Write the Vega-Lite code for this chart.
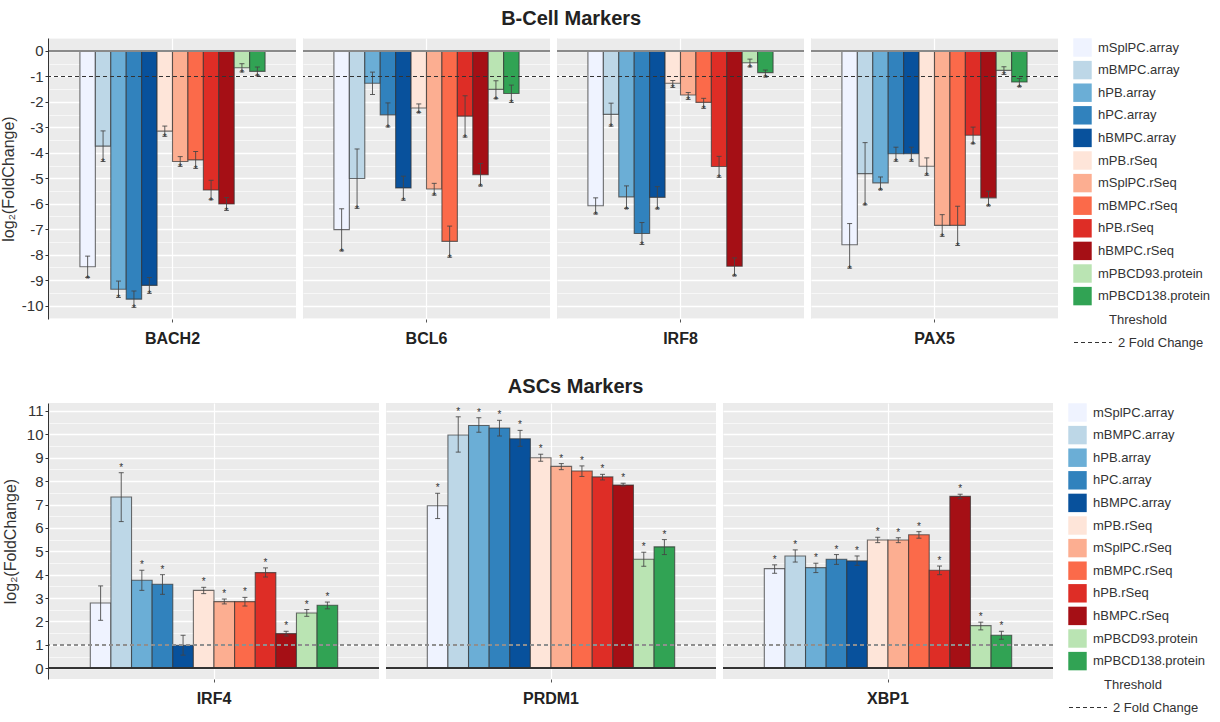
{
  "$schema": "https://vega.github.io/schema/vega-lite/v6.json",
  "background": "white",
  "padding": {"left": 0, "top": 9, "right": 5, "bottom": 2},
  "config": {
    "view": {"fill": "#EBEBEB", "stroke": null},
    "font": "Liberation Sans",
    "concat": {"spacing": 27},
    "legend": {"labelFont": "Liberation Sans", "titleFont": "Liberation Sans"},
    "axis": {"labelFont": "Liberation Sans", "titleFont": "Liberation Sans"},
    "axisY": {"labelOverlap": false}
  },
  "datasets": {
    "bcell": [
      {"gene": "BACH2", "sample": "mSplPC.array", "fc": -8.48, "lo": -8.9, "hi": -8.06, "star": "*"},
      {"gene": "BACH2", "sample": "mBMPC.array", "fc": -3.74, "lo": -4.34, "hi": -3.14, "star": "*"},
      {"gene": "BACH2", "sample": "hPB.array", "fc": -9.36, "lo": -9.68, "hi": -9.04, "star": "*"},
      {"gene": "BACH2", "sample": "hPC.array", "fc": -9.75, "lo": -10.07, "hi": -9.43, "star": "*"},
      {"gene": "BACH2", "sample": "hBMPC.array", "fc": -9.21, "lo": -9.52, "hi": -8.9, "star": "*"},
      {"gene": "BACH2", "sample": "mPB.rSeq", "fc": -3.15, "lo": -3.35, "hi": -2.95, "star": "*"},
      {"gene": "BACH2", "sample": "mSplPC.rSeq", "fc": -4.34, "lo": -4.53, "hi": -4.15, "star": "*"},
      {"gene": "BACH2", "sample": "mBMPC.rSeq", "fc": -4.28, "lo": -4.61, "hi": -3.95, "star": "*"},
      {"gene": "BACH2", "sample": "hPB.rSeq", "fc": -5.46, "lo": -5.84, "hi": -5.08, "star": "*"},
      {"gene": "BACH2", "sample": "hBMPC.rSeq", "fc": -6.01, "lo": -6.26, "hi": -5.76, "star": "*"},
      {"gene": "BACH2", "sample": "mPBCD93.protein", "fc": -0.66, "lo": -0.82, "hi": -0.5, "star": "*"},
      {"gene": "BACH2", "sample": "mPBCD138.protein", "fc": -0.8, "lo": -0.97, "hi": -0.63, "star": "*"},
      {"gene": "BCL6", "sample": "mSplPC.array", "fc": -7.02, "lo": -7.85, "hi": -6.2, "star": "*"},
      {"gene": "BCL6", "sample": "mBMPC.array", "fc": -5.01, "lo": -6.18, "hi": -3.85, "star": "*"},
      {"gene": "BCL6", "sample": "hPB.array", "fc": -1.27, "lo": -1.71, "hi": -0.83, "star": ""},
      {"gene": "BCL6", "sample": "hPC.array", "fc": -2.51, "lo": -2.98, "hi": -2.04, "star": "*"},
      {"gene": "BCL6", "sample": "hBMPC.array", "fc": -5.38, "lo": -5.86, "hi": -4.92, "star": "*"},
      {"gene": "BCL6", "sample": "mPB.rSeq", "fc": -2.24, "lo": -2.42, "hi": -2.08, "star": "*"},
      {"gene": "BCL6", "sample": "mSplPC.rSeq", "fc": -5.42, "lo": -5.66, "hi": -5.2, "star": "*"},
      {"gene": "BCL6", "sample": "mBMPC.rSeq", "fc": -7.48, "lo": -8.1, "hi": -6.88, "star": "*"},
      {"gene": "BCL6", "sample": "hPB.rSeq", "fc": -2.56, "lo": -3.38, "hi": -1.76, "star": "*"},
      {"gene": "BCL6", "sample": "hBMPC.rSeq", "fc": -4.86, "lo": -5.3, "hi": -4.42, "star": "*"},
      {"gene": "BCL6", "sample": "mPBCD93.protein", "fc": -1.51, "lo": -1.87, "hi": -1.17, "star": "*"},
      {"gene": "BCL6", "sample": "mPBCD138.protein", "fc": -1.67, "lo": -2.02, "hi": -1.34, "star": "*"},
      {"gene": "IRF8", "sample": "mSplPC.array", "fc": -6.08, "lo": -6.4, "hi": -5.77, "star": "*"},
      {"gene": "IRF8", "sample": "mBMPC.array", "fc": -2.49, "lo": -2.95, "hi": -2.05, "star": "*"},
      {"gene": "IRF8", "sample": "hPB.array", "fc": -5.73, "lo": -6.19, "hi": -5.3, "star": "*"},
      {"gene": "IRF8", "sample": "hPC.array", "fc": -7.17, "lo": -7.6, "hi": -6.74, "star": "*"},
      {"gene": "IRF8", "sample": "hBMPC.array", "fc": -5.75, "lo": -6.2, "hi": -5.33, "star": "*"},
      {"gene": "IRF8", "sample": "mPB.rSeq", "fc": -1.27, "lo": -1.43, "hi": -1.16, "star": "*"},
      {"gene": "IRF8", "sample": "mSplPC.rSeq", "fc": -1.73, "lo": -1.9, "hi": -1.63, "star": "*"},
      {"gene": "IRF8", "sample": "mBMPC.rSeq", "fc": -2.02, "lo": -2.25, "hi": -1.86, "star": "*"},
      {"gene": "IRF8", "sample": "hPB.rSeq", "fc": -4.54, "lo": -4.96, "hi": -4.14, "star": "*"},
      {"gene": "IRF8", "sample": "hBMPC.rSeq", "fc": -8.46, "lo": -8.83, "hi": -8.13, "star": "*"},
      {"gene": "IRF8", "sample": "mPBCD93.protein", "fc": -0.46, "lo": -0.62, "hi": -0.32, "star": "*"},
      {"gene": "IRF8", "sample": "mPBCD138.protein", "fc": -0.85, "lo": -1.02, "hi": -0.75, "star": "*"},
      {"gene": "PAX5", "sample": "mSplPC.array", "fc": -7.61, "lo": -8.53, "hi": -6.78, "star": "*"},
      {"gene": "PAX5", "sample": "mBMPC.array", "fc": -4.82, "lo": -6.04, "hi": -3.6, "star": "*"},
      {"gene": "PAX5", "sample": "hPB.array", "fc": -5.18, "lo": -5.45, "hi": -4.95, "star": "*"},
      {"gene": "PAX5", "sample": "hPC.array", "fc": -4.04, "lo": -4.33, "hi": -3.78, "star": "*"},
      {"gene": "PAX5", "sample": "hBMPC.array", "fc": -4.04, "lo": -4.33, "hi": -3.78, "star": "*"},
      {"gene": "PAX5", "sample": "mPB.rSeq", "fc": -4.53, "lo": -4.88, "hi": -4.2, "star": "*"},
      {"gene": "PAX5", "sample": "mSplPC.rSeq", "fc": -6.85, "lo": -7.28, "hi": -6.43, "star": "*"},
      {"gene": "PAX5", "sample": "mBMPC.rSeq", "fc": -6.85, "lo": -7.64, "hi": -6.1, "star": "*"},
      {"gene": "PAX5", "sample": "hPB.rSeq", "fc": -3.31, "lo": -3.64, "hi": -2.99, "star": "*"},
      {"gene": "PAX5", "sample": "hBMPC.rSeq", "fc": -5.77, "lo": -6.08, "hi": -5.51, "star": "*"},
      {"gene": "PAX5", "sample": "mPBCD93.protein", "fc": -0.76, "lo": -0.92, "hi": -0.62, "star": "*"},
      {"gene": "PAX5", "sample": "mPBCD138.protein", "fc": -1.22, "lo": -1.4, "hi": -1.08, "star": "*"}
    ],
    "asc": [
      {"gene": "IRF4", "sample": "mSplPC.array", "fc": 2.79, "lo": 2.05, "hi": 3.52, "star": ""},
      {"gene": "IRF4", "sample": "mBMPC.array", "fc": 7.32, "lo": 6.27, "hi": 8.36, "star": "*"},
      {"gene": "IRF4", "sample": "hPB.array", "fc": 3.76, "lo": 3.33, "hi": 4.19, "star": "*"},
      {"gene": "IRF4", "sample": "hPC.array", "fc": 3.59, "lo": 3.16, "hi": 4.0, "star": "*"},
      {"gene": "IRF4", "sample": "hBMPC.array", "fc": 0.98, "lo": 0.56, "hi": 1.41, "star": ""},
      {"gene": "IRF4", "sample": "mPB.rSeq", "fc": 3.33, "lo": 3.19, "hi": 3.46, "star": "*"},
      {"gene": "IRF4", "sample": "mSplPC.rSeq", "fc": 2.85, "lo": 2.75, "hi": 2.96, "star": "*"},
      {"gene": "IRF4", "sample": "mBMPC.rSeq", "fc": 2.85, "lo": 2.66, "hi": 3.03, "star": "*"},
      {"gene": "IRF4", "sample": "hPB.rSeq", "fc": 4.09, "lo": 3.9, "hi": 4.29, "star": "*"},
      {"gene": "IRF4", "sample": "hBMPC.rSeq", "fc": 1.48, "lo": 1.38, "hi": 1.58, "star": "*"},
      {"gene": "IRF4", "sample": "mPBCD93.protein", "fc": 2.36, "lo": 2.22, "hi": 2.51, "star": "*"},
      {"gene": "IRF4", "sample": "mPBCD138.protein", "fc": 2.69, "lo": 2.54, "hi": 2.83, "star": "*"},
      {"gene": "PRDM1", "sample": "mSplPC.array", "fc": 6.95, "lo": 6.4, "hi": 7.48, "star": "*"},
      {"gene": "PRDM1", "sample": "mBMPC.array", "fc": 9.97, "lo": 9.24, "hi": 10.75, "star": "*"},
      {"gene": "PRDM1", "sample": "hPB.array", "fc": 10.38, "lo": 10.09, "hi": 10.71, "star": "*"},
      {"gene": "PRDM1", "sample": "hPC.array", "fc": 10.27, "lo": 9.93, "hi": 10.6, "star": "*"},
      {"gene": "PRDM1", "sample": "hBMPC.array", "fc": 9.81, "lo": 9.49, "hi": 10.17, "star": "*"},
      {"gene": "PRDM1", "sample": "mPB.rSeq", "fc": 9.0, "lo": 8.85, "hi": 9.15, "star": "*"},
      {"gene": "PRDM1", "sample": "mSplPC.rSeq", "fc": 8.63, "lo": 8.49, "hi": 8.75, "star": "*"},
      {"gene": "PRDM1", "sample": "mBMPC.rSeq", "fc": 8.43, "lo": 8.2, "hi": 8.65, "star": "*"},
      {"gene": "PRDM1", "sample": "hPB.rSeq", "fc": 8.18, "lo": 8.05, "hi": 8.29, "star": "*"},
      {"gene": "PRDM1", "sample": "hBMPC.rSeq", "fc": 7.83, "lo": 7.79, "hi": 7.91, "star": "*"},
      {"gene": "PRDM1", "sample": "mPBCD93.protein", "fc": 4.66, "lo": 4.36, "hi": 4.96, "star": "*"},
      {"gene": "PRDM1", "sample": "mPBCD138.protein", "fc": 5.19, "lo": 4.86, "hi": 5.5, "star": "*"},
      {"gene": "XBP1", "sample": "mSplPC.array", "fc": 4.26, "lo": 4.06, "hi": 4.42, "star": "*"},
      {"gene": "XBP1", "sample": "mBMPC.array", "fc": 4.8, "lo": 4.54, "hi": 5.06, "star": "*"},
      {"gene": "XBP1", "sample": "hPB.array", "fc": 4.3, "lo": 4.09, "hi": 4.49, "star": "*"},
      {"gene": "XBP1", "sample": "hPC.array", "fc": 4.66, "lo": 4.44, "hi": 4.86, "star": "*"},
      {"gene": "XBP1", "sample": "hBMPC.array", "fc": 4.59, "lo": 4.4, "hi": 4.8, "star": "*"},
      {"gene": "XBP1", "sample": "mPB.rSeq", "fc": 5.48, "lo": 5.37, "hi": 5.6, "star": "*"},
      {"gene": "XBP1", "sample": "mSplPC.rSeq", "fc": 5.48, "lo": 5.37, "hi": 5.58, "star": "*"},
      {"gene": "XBP1", "sample": "mBMPC.rSeq", "fc": 5.71, "lo": 5.56, "hi": 5.84, "star": "*"},
      {"gene": "XBP1", "sample": "hPB.rSeq", "fc": 4.19, "lo": 4.0, "hi": 4.37, "star": "*"},
      {"gene": "XBP1", "sample": "hBMPC.rSeq", "fc": 7.35, "lo": 7.25, "hi": 7.44, "star": "*"},
      {"gene": "XBP1", "sample": "mPBCD93.protein", "fc": 1.82, "lo": 1.64, "hi": 1.97, "star": "*"},
      {"gene": "XBP1", "sample": "mPBCD138.protein", "fc": 1.41, "lo": 1.24, "hi": 1.58, "star": "*"}
    ]
  },
  "vconcat": [
    {
      "data": {"name": "bcell"},
      "title": {"text": "B-Cell Markers", "fontSize": 20, "fontWeight": "bold", "color": "#222", "anchor": "middle", "offset": 2, "dx": -34},
      "facet": {"column": {"field": "gene", "type": "nominal", "header": {"title": null, "labels": false}}},
      "spacing": 5,
      "resolve": {"scale": {"x": "independent", "xOffset": "independent"}},
      "spec": {
        "width": 247,
        "height": 281,
        "layer": [
          {
            "mark": {"type": "bar", "stroke": "#333", "strokeOpacity": 0.7, "strokeWidth": 1.1},
            "encoding": {
              "x": {"field": "gene", "type": "nominal", "scale": {"type": "band", "paddingInner": 0, "paddingOuter": 0.167},
                "axis": {"title": null, "labelFontSize": 16, "labelFontWeight": "bold", "labelColor": "#222", "labelAngle": 0, "domain": false, "ticks": true, "tickSize": 3, "tickColor": "#555", "grid": true, "gridColor": "#FFFFFF", "gridWidth": 1.2, "bandPosition": 0.5, "labelPadding": 8}},
              "xOffset": {"field": "sample", "type": "nominal", "sort": ["mSplPC.array","mBMPC.array","hPB.array","hPC.array","hBMPC.array","mPB.rSeq","mSplPC.rSeq","mBMPC.rSeq","hPB.rSeq","hBMPC.rSeq","mPBCD93.protein","mPBCD138.protein"], "scale": {"type": "band", "paddingInner": 0, "paddingOuter": 0}},
              "y": {"field": "fc", "type": "quantitative", "scale": {"domain": [-10.53, 0.51], "nice": false, "zero": false},
                "axis": {"title": "log₂(FoldChange)", "titleFontSize": 16, "titleFontWeight": "normal", "titleColor": "#333", "titlePadding": 5, "values": [-10.5,-10,-9.5,-9,-8.5,-8,-7.5,-7,-6.5,-6,-5.5,-5,-4.5,-4,-3.5,-3,-2.5,-2,-1.5,-1,-0.5,0,0.5], "labelExpr": "datum.value % 1 === 0 ? '' + datum.value : ''", "labelOverlap": false, "labelFontSize": 15, "labelColor": "#333", "labelPadding": 2, "grid": true, "gridColor": "#FFFFFF", "gridWidth": {"condition": {"test": "datum.value % 1 === 0", "value": 1.3}, "value": 0.6}, "domain": true, "domainColor": "#333", "domainWidth": 1, "tickColor": "#333", "tickSize": 3, "tickOpacity": {"condition": {"test": "datum.value % 1 === 0", "value": 1}, "value": 0}}},
              "y2": {"datum": 0},
              "color": {"field": "sample", "type": "nominal",
                "scale": {"domain": ["mSplPC.array","mBMPC.array","hPB.array","hPC.array","hBMPC.array","mPB.rSeq","mSplPC.rSeq","mBMPC.rSeq","hPB.rSeq","hBMPC.rSeq","mPBCD93.protein","mPBCD138.protein"],
                  "range": ["#EFF3FF","#BDD7E7","#6BAED6","#3182BD","#08519C","#FEE5D9","#FCAE91","#FB6A4A","#DE2D26","#A50F15","#BAE4B3","#31A354"]},
                "legend": {"title": null, "symbolType": "square", "symbolSize": 340, "symbolStrokeWidth": 0, "labelFontSize": 13, "labelColor": "#333", "rowPadding": 3.6, "offset": 14, "labelOffset": 6}}
            }
          },
          {
            "mark": {"type": "rule", "color": "#444", "strokeWidth": 1, "opacity": 0.85},
            "encoding": {
              "x": {"field": "gene", "type": "nominal", "scale": {"type": "band", "paddingInner": 0, "paddingOuter": 0.167}},
              "xOffset": {"field": "sample", "type": "nominal", "sort": ["mSplPC.array","mBMPC.array","hPB.array","hPC.array","hBMPC.array","mPB.rSeq","mSplPC.rSeq","mBMPC.rSeq","hPB.rSeq","hBMPC.rSeq","mPBCD93.protein","mPBCD138.protein"], "scale": {"type": "band", "paddingInner": 0, "paddingOuter": 0}},
              "y": {"field": "lo", "type": "quantitative",
                "axis": {"title": "log₂(FoldChange)", "titleFontSize": 16, "titleFontWeight": "normal", "titleColor": "#333", "titlePadding": 5, "values": [-10.5,-10,-9.5,-9,-8.5,-8,-7.5,-7,-6.5,-6,-5.5,-5,-4.5,-4,-3.5,-3,-2.5,-2,-1.5,-1,-0.5,0,0.5], "labelExpr": "datum.value % 1 === 0 ? '' + datum.value : ''", "labelOverlap": false, "labelFontSize": 15, "labelColor": "#333", "labelPadding": 2, "grid": true, "gridColor": "#FFFFFF", "gridWidth": {"condition": {"test": "datum.value % 1 === 0", "value": 1.3}, "value": 0.6}, "domain": true, "domainColor": "#333", "domainWidth": 1, "tickColor": "#333", "tickSize": 3, "tickOpacity": {"condition": {"test": "datum.value % 1 === 0", "value": 1}, "value": 0}}},
              "y2": {"field": "hi"}
            }
          },
          {
            "mark": {"type": "tick", "color": "#444", "size": 5, "thickness": 1, "orient": "horizontal", "opacity": 0.85},
            "encoding": {
              "x": {"field": "gene", "type": "nominal", "scale": {"type": "band", "paddingInner": 0, "paddingOuter": 0.167}},
              "xOffset": {"field": "sample", "type": "nominal", "sort": ["mSplPC.array","mBMPC.array","hPB.array","hPC.array","hBMPC.array","mPB.rSeq","mSplPC.rSeq","mBMPC.rSeq","hPB.rSeq","hBMPC.rSeq","mPBCD93.protein","mPBCD138.protein"], "scale": {"type": "band", "paddingInner": 0, "paddingOuter": 0}},
              "y": {"field": "lo", "type": "quantitative",
                "axis": {"title": "log₂(FoldChange)", "titleFontSize": 16, "titleFontWeight": "normal", "titleColor": "#333", "titlePadding": 5, "values": [-10.5,-10,-9.5,-9,-8.5,-8,-7.5,-7,-6.5,-6,-5.5,-5,-4.5,-4,-3.5,-3,-2.5,-2,-1.5,-1,-0.5,0,0.5], "labelExpr": "datum.value % 1 === 0 ? '' + datum.value : ''", "labelOverlap": false, "labelFontSize": 15, "labelColor": "#333", "labelPadding": 2, "grid": true, "gridColor": "#FFFFFF", "gridWidth": {"condition": {"test": "datum.value % 1 === 0", "value": 1.3}, "value": 0.6}, "domain": true, "domainColor": "#333", "domainWidth": 1, "tickColor": "#333", "tickSize": 3, "tickOpacity": {"condition": {"test": "datum.value % 1 === 0", "value": 1}, "value": 0}}}
            }
          },
          {
            "mark": {"type": "tick", "color": "#444", "size": 5, "thickness": 1, "orient": "horizontal", "opacity": 0.85},
            "encoding": {
              "x": {"field": "gene", "type": "nominal", "scale": {"type": "band", "paddingInner": 0, "paddingOuter": 0.167}},
              "xOffset": {"field": "sample", "type": "nominal", "sort": ["mSplPC.array","mBMPC.array","hPB.array","hPC.array","hBMPC.array","mPB.rSeq","mSplPC.rSeq","mBMPC.rSeq","hPB.rSeq","hBMPC.rSeq","mPBCD93.protein","mPBCD138.protein"], "scale": {"type": "band", "paddingInner": 0, "paddingOuter": 0}},
              "y": {"field": "hi", "type": "quantitative",
                "axis": {"title": "log₂(FoldChange)", "titleFontSize": 16, "titleFontWeight": "normal", "titleColor": "#333", "titlePadding": 5, "values": [-10.5,-10,-9.5,-9,-8.5,-8,-7.5,-7,-6.5,-6,-5.5,-5,-4.5,-4,-3.5,-3,-2.5,-2,-1.5,-1,-0.5,0,0.5], "labelExpr": "datum.value % 1 === 0 ? '' + datum.value : ''", "labelOverlap": false, "labelFontSize": 15, "labelColor": "#333", "labelPadding": 2, "grid": true, "gridColor": "#FFFFFF", "gridWidth": {"condition": {"test": "datum.value % 1 === 0", "value": 1.3}, "value": 0.6}, "domain": true, "domainColor": "#333", "domainWidth": 1, "tickColor": "#333", "tickSize": 3, "tickOpacity": {"condition": {"test": "datum.value % 1 === 0", "value": 1}, "value": 0}}}
            }
          },
          {
            "mark": {"type": "rule", "color": "#8A8A8A", "strokeWidth": 1.3},
            "encoding": {"y": {"datum": 0,
                "axis": {"title": "log₂(FoldChange)", "titleFontSize": 16, "titleFontWeight": "normal", "titleColor": "#333", "titlePadding": 5, "values": [-10.5,-10,-9.5,-9,-8.5,-8,-7.5,-7,-6.5,-6,-5.5,-5,-4.5,-4,-3.5,-3,-2.5,-2,-1.5,-1,-0.5,0,0.5], "labelExpr": "datum.value % 1 === 0 ? '' + datum.value : ''", "labelOverlap": false, "labelFontSize": 15, "labelColor": "#333", "labelPadding": 2, "grid": true, "gridColor": "#FFFFFF", "gridWidth": {"condition": {"test": "datum.value % 1 === 0", "value": 1.3}, "value": 0.6}, "domain": true, "domainColor": "#333", "domainWidth": 1, "tickColor": "#333", "tickSize": 3, "tickOpacity": {"condition": {"test": "datum.value % 1 === 0", "value": 1}, "value": 0}}}}
          },
          {
            "mark": {"type": "rule", "color": "#333", "strokeWidth": 1.1},
            "encoding": {
              "y": {"datum": -1,
                "axis": {"title": "log₂(FoldChange)", "titleFontSize": 16, "titleFontWeight": "normal", "titleColor": "#333", "titlePadding": 5, "values": [-10.5,-10,-9.5,-9,-8.5,-8,-7.5,-7,-6.5,-6,-5.5,-5,-4.5,-4,-3.5,-3,-2.5,-2,-1.5,-1,-0.5,0,0.5], "labelExpr": "datum.value % 1 === 0 ? '' + datum.value : ''", "labelOverlap": false, "labelFontSize": 15, "labelColor": "#333", "labelPadding": 2, "grid": true, "gridColor": "#FFFFFF", "gridWidth": {"condition": {"test": "datum.value % 1 === 0", "value": 1.3}, "value": 0.6}, "domain": true, "domainColor": "#333", "domainWidth": 1, "tickColor": "#333", "tickSize": 3, "tickOpacity": {"condition": {"test": "datum.value % 1 === 0", "value": 1}, "value": 0}}},
              "strokeDash": {"datum": "2 Fold Change", "type": "nominal",
                "scale": {"domain": ["2 Fold Change"], "range": [[4, 3]]},
                "legend": {"title": "Threshold", "titleFontSize": 13, "titleFontWeight": "normal", "titleColor": "#333", "titleAnchor": "middle", "labelFontSize": 13, "labelColor": "#333", "symbolType": "M-1,0L3,0", "symbolSize": 361, "symbolFillColor": "transparent", "symbolStrokeColor": "#333", "symbolStrokeWidth": 1.2, "symbolDash": [3, 1], "offset": 7, "labelOffset": 24}}
            }
          },
          {
            "mark": {"type": "text", "fontSize": 10, "color": "#333", "baseline": "alphabetic", "dy": 5},
            "encoding": {
              "x": {"field": "gene", "type": "nominal", "scale": {"type": "band", "paddingInner": 0, "paddingOuter": 0.167}},
              "xOffset": {"field": "sample", "type": "nominal", "sort": ["mSplPC.array","mBMPC.array","hPB.array","hPC.array","hBMPC.array","mPB.rSeq","mSplPC.rSeq","mBMPC.rSeq","hPB.rSeq","hBMPC.rSeq","mPBCD93.protein","mPBCD138.protein"], "scale": {"type": "band", "paddingInner": 0, "paddingOuter": 0}},
              "y": {"field": "lo", "type": "quantitative",
                "axis": {"title": "log₂(FoldChange)", "titleFontSize": 16, "titleFontWeight": "normal", "titleColor": "#333", "titlePadding": 5, "values": [-10.5,-10,-9.5,-9,-8.5,-8,-7.5,-7,-6.5,-6,-5.5,-5,-4.5,-4,-3.5,-3,-2.5,-2,-1.5,-1,-0.5,0,0.5], "labelExpr": "datum.value % 1 === 0 ? '' + datum.value : ''", "labelOverlap": false, "labelFontSize": 15, "labelColor": "#333", "labelPadding": 2, "grid": true, "gridColor": "#FFFFFF", "gridWidth": {"condition": {"test": "datum.value % 1 === 0", "value": 1.3}, "value": 0.6}, "domain": true, "domainColor": "#333", "domainWidth": 1, "tickColor": "#333", "tickSize": 3, "tickOpacity": {"condition": {"test": "datum.value % 1 === 0", "value": 1}, "value": 0}}},
              "text": {"field": "star"}
            }
          }
        ]
      }
    },
    {
      "data": {"name": "asc"},
      "title": {"text": "ASCs Markers", "fontSize": 20, "fontWeight": "bold", "color": "#222", "anchor": "middle", "offset": 6, "dx": -28},
      "facet": {"column": {"field": "gene", "type": "nominal", "header": {"title": null, "labels": false}}},
      "spacing": 5,
      "resolve": {"scale": {"x": "independent", "xOffset": "independent"}},
      "spec": {
        "width": 330,
        "height": 276,
        "layer": [
          {
            "mark": {"type": "bar", "stroke": "#333", "strokeOpacity": 0.7, "strokeWidth": 1.1},
            "encoding": {
              "x": {"field": "gene", "type": "nominal", "scale": {"type": "band", "paddingInner": 0, "paddingOuter": 0.167},
                "axis": {"title": null, "labelFontSize": 16, "labelFontWeight": "bold", "labelColor": "#222", "labelAngle": 0, "domain": false, "ticks": true, "tickSize": 3, "tickColor": "#555", "grid": true, "gridColor": "#FFFFFF", "gridWidth": 1.2, "bandPosition": 0.5, "labelPadding": 8}},
              "xOffset": {"field": "sample", "type": "nominal", "sort": ["mSplPC.array","mBMPC.array","hPB.array","hPC.array","hBMPC.array","mPB.rSeq","mSplPC.rSeq","mBMPC.rSeq","hPB.rSeq","hBMPC.rSeq","mPBCD93.protein","mPBCD138.protein"], "scale": {"type": "band", "paddingInner": 0, "paddingOuter": 0}},
              "y": {"field": "fc", "type": "quantitative", "scale": {"domain": [-0.46, 11.34], "nice": false, "zero": false},
                "axis": {"title": "log₂(FoldChange)", "titleFontSize": 16, "titleFontWeight": "normal", "titleColor": "#333", "titlePadding": 8, "values": [0,0.5,1,1.5,2,2.5,3,3.5,4,4.5,5,5.5,6,6.5,7,7.5,8,8.5,9,9.5,10,10.5,11], "labelExpr": "datum.value % 1 === 0 ? '' + datum.value : ''", "labelOverlap": false, "labelFontSize": 15, "labelColor": "#333", "labelPadding": 2, "grid": true, "gridColor": "#FFFFFF", "gridWidth": {"condition": {"test": "datum.value % 1 === 0", "value": 1.3}, "value": 0.6}, "domain": true, "domainColor": "#333", "domainWidth": 1, "tickColor": "#333", "tickSize": 3, "tickOpacity": {"condition": {"test": "datum.value % 1 === 0", "value": 1}, "value": 0}}},
              "y2": {"datum": 0},
              "color": {"field": "sample", "type": "nominal",
                "scale": {"domain": ["mSplPC.array","mBMPC.array","hPB.array","hPC.array","hBMPC.array","mPB.rSeq","mSplPC.rSeq","mBMPC.rSeq","hPB.rSeq","hBMPC.rSeq","mPBCD93.protein","mPBCD138.protein"],
                  "range": ["#EFF3FF","#BDD7E7","#6BAED6","#3182BD","#08519C","#FEE5D9","#FCAE91","#FB6A4A","#DE2D26","#A50F15","#BAE4B3","#31A354"]},
                "legend": {"title": null, "symbolType": "square", "symbolSize": 340, "symbolStrokeWidth": 0, "labelFontSize": 13, "labelColor": "#333", "rowPadding": 3.6, "offset": 14, "labelOffset": 6}}
            }
          },
          {
            "mark": {"type": "rule", "color": "#444", "strokeWidth": 1, "opacity": 0.85},
            "encoding": {
              "x": {"field": "gene", "type": "nominal", "scale": {"type": "band", "paddingInner": 0, "paddingOuter": 0.167}},
              "xOffset": {"field": "sample", "type": "nominal", "sort": ["mSplPC.array","mBMPC.array","hPB.array","hPC.array","hBMPC.array","mPB.rSeq","mSplPC.rSeq","mBMPC.rSeq","hPB.rSeq","hBMPC.rSeq","mPBCD93.protein","mPBCD138.protein"], "scale": {"type": "band", "paddingInner": 0, "paddingOuter": 0}},
              "y": {"field": "lo", "type": "quantitative",
                "axis": {"title": "log₂(FoldChange)", "titleFontSize": 16, "titleFontWeight": "normal", "titleColor": "#333", "titlePadding": 8, "values": [0,0.5,1,1.5,2,2.5,3,3.5,4,4.5,5,5.5,6,6.5,7,7.5,8,8.5,9,9.5,10,10.5,11], "labelExpr": "datum.value % 1 === 0 ? '' + datum.value : ''", "labelOverlap": false, "labelFontSize": 15, "labelColor": "#333", "labelPadding": 2, "grid": true, "gridColor": "#FFFFFF", "gridWidth": {"condition": {"test": "datum.value % 1 === 0", "value": 1.3}, "value": 0.6}, "domain": true, "domainColor": "#333", "domainWidth": 1, "tickColor": "#333", "tickSize": 3, "tickOpacity": {"condition": {"test": "datum.value % 1 === 0", "value": 1}, "value": 0}}},
              "y2": {"field": "hi"}
            }
          },
          {
            "mark": {"type": "tick", "color": "#444", "size": 5, "thickness": 1, "orient": "horizontal", "opacity": 0.85},
            "encoding": {
              "x": {"field": "gene", "type": "nominal", "scale": {"type": "band", "paddingInner": 0, "paddingOuter": 0.167}},
              "xOffset": {"field": "sample", "type": "nominal", "sort": ["mSplPC.array","mBMPC.array","hPB.array","hPC.array","hBMPC.array","mPB.rSeq","mSplPC.rSeq","mBMPC.rSeq","hPB.rSeq","hBMPC.rSeq","mPBCD93.protein","mPBCD138.protein"], "scale": {"type": "band", "paddingInner": 0, "paddingOuter": 0}},
              "y": {"field": "lo", "type": "quantitative",
                "axis": {"title": "log₂(FoldChange)", "titleFontSize": 16, "titleFontWeight": "normal", "titleColor": "#333", "titlePadding": 8, "values": [0,0.5,1,1.5,2,2.5,3,3.5,4,4.5,5,5.5,6,6.5,7,7.5,8,8.5,9,9.5,10,10.5,11], "labelExpr": "datum.value % 1 === 0 ? '' + datum.value : ''", "labelOverlap": false, "labelFontSize": 15, "labelColor": "#333", "labelPadding": 2, "grid": true, "gridColor": "#FFFFFF", "gridWidth": {"condition": {"test": "datum.value % 1 === 0", "value": 1.3}, "value": 0.6}, "domain": true, "domainColor": "#333", "domainWidth": 1, "tickColor": "#333", "tickSize": 3, "tickOpacity": {"condition": {"test": "datum.value % 1 === 0", "value": 1}, "value": 0}}}
            }
          },
          {
            "mark": {"type": "tick", "color": "#444", "size": 5, "thickness": 1, "orient": "horizontal", "opacity": 0.85},
            "encoding": {
              "x": {"field": "gene", "type": "nominal", "scale": {"type": "band", "paddingInner": 0, "paddingOuter": 0.167}},
              "xOffset": {"field": "sample", "type": "nominal", "sort": ["mSplPC.array","mBMPC.array","hPB.array","hPC.array","hBMPC.array","mPB.rSeq","mSplPC.rSeq","mBMPC.rSeq","hPB.rSeq","hBMPC.rSeq","mPBCD93.protein","mPBCD138.protein"], "scale": {"type": "band", "paddingInner": 0, "paddingOuter": 0}},
              "y": {"field": "hi", "type": "quantitative",
                "axis": {"title": "log₂(FoldChange)", "titleFontSize": 16, "titleFontWeight": "normal", "titleColor": "#333", "titlePadding": 8, "values": [0,0.5,1,1.5,2,2.5,3,3.5,4,4.5,5,5.5,6,6.5,7,7.5,8,8.5,9,9.5,10,10.5,11], "labelExpr": "datum.value % 1 === 0 ? '' + datum.value : ''", "labelOverlap": false, "labelFontSize": 15, "labelColor": "#333", "labelPadding": 2, "grid": true, "gridColor": "#FFFFFF", "gridWidth": {"condition": {"test": "datum.value % 1 === 0", "value": 1.3}, "value": 0.6}, "domain": true, "domainColor": "#333", "domainWidth": 1, "tickColor": "#333", "tickSize": 3, "tickOpacity": {"condition": {"test": "datum.value % 1 === 0", "value": 1}, "value": 0}}}
            }
          },
          {
            "mark": {"type": "rule", "color": "#333", "strokeWidth": 1.2},
            "encoding": {"y": {"datum": 0,
                "axis": {"title": "log₂(FoldChange)", "titleFontSize": 16, "titleFontWeight": "normal", "titleColor": "#333", "titlePadding": 8, "values": [0,0.5,1,1.5,2,2.5,3,3.5,4,4.5,5,5.5,6,6.5,7,7.5,8,8.5,9,9.5,10,10.5,11], "labelExpr": "datum.value % 1 === 0 ? '' + datum.value : ''", "labelOverlap": false, "labelFontSize": 15, "labelColor": "#333", "labelPadding": 2, "grid": true, "gridColor": "#FFFFFF", "gridWidth": {"condition": {"test": "datum.value % 1 === 0", "value": 1.3}, "value": 0.6}, "domain": true, "domainColor": "#333", "domainWidth": 1, "tickColor": "#333", "tickSize": 3, "tickOpacity": {"condition": {"test": "datum.value % 1 === 0", "value": 1}, "value": 0}}}}
          },
          {
            "mark": {"type": "rule", "color": "#8F8F8F", "strokeWidth": 1.2},
            "encoding": {
              "y": {"datum": 1,
                "axis": {"title": "log₂(FoldChange)", "titleFontSize": 16, "titleFontWeight": "normal", "titleColor": "#333", "titlePadding": 8, "values": [0,0.5,1,1.5,2,2.5,3,3.5,4,4.5,5,5.5,6,6.5,7,7.5,8,8.5,9,9.5,10,10.5,11], "labelExpr": "datum.value % 1 === 0 ? '' + datum.value : ''", "labelOverlap": false, "labelFontSize": 15, "labelColor": "#333", "labelPadding": 2, "grid": true, "gridColor": "#FFFFFF", "gridWidth": {"condition": {"test": "datum.value % 1 === 0", "value": 1.3}, "value": 0.6}, "domain": true, "domainColor": "#333", "domainWidth": 1, "tickColor": "#333", "tickSize": 3, "tickOpacity": {"condition": {"test": "datum.value % 1 === 0", "value": 1}, "value": 0}}},
              "strokeDash": {"datum": "2 Fold Change", "type": "nominal",
                "scale": {"domain": ["2 Fold Change"], "range": [[4, 3]]},
                "legend": {"title": "Threshold", "titleFontSize": 13, "titleFontWeight": "normal", "titleColor": "#333", "titleAnchor": "middle", "labelFontSize": 13, "labelColor": "#333", "symbolType": "M-1,0L3,0", "symbolSize": 361, "symbolFillColor": "transparent", "symbolStrokeColor": "#333", "symbolStrokeWidth": 1.2, "symbolDash": [3, 1], "offset": 7, "labelOffset": 24}}
            }
          },
          {
            "mark": {"type": "text", "fontSize": 10, "color": "#333", "baseline": "alphabetic", "dy": -2},
            "encoding": {
              "x": {"field": "gene", "type": "nominal", "scale": {"type": "band", "paddingInner": 0, "paddingOuter": 0.167}},
              "xOffset": {"field": "sample", "type": "nominal", "sort": ["mSplPC.array","mBMPC.array","hPB.array","hPC.array","hBMPC.array","mPB.rSeq","mSplPC.rSeq","mBMPC.rSeq","hPB.rSeq","hBMPC.rSeq","mPBCD93.protein","mPBCD138.protein"], "scale": {"type": "band", "paddingInner": 0, "paddingOuter": 0}},
              "y": {"field": "hi", "type": "quantitative",
                "axis": {"title": "log₂(FoldChange)", "titleFontSize": 16, "titleFontWeight": "normal", "titleColor": "#333", "titlePadding": 8, "values": [0,0.5,1,1.5,2,2.5,3,3.5,4,4.5,5,5.5,6,6.5,7,7.5,8,8.5,9,9.5,10,10.5,11], "labelExpr": "datum.value % 1 === 0 ? '' + datum.value : ''", "labelOverlap": false, "labelFontSize": 15, "labelColor": "#333", "labelPadding": 2, "grid": true, "gridColor": "#FFFFFF", "gridWidth": {"condition": {"test": "datum.value % 1 === 0", "value": 1.3}, "value": 0.6}, "domain": true, "domainColor": "#333", "domainWidth": 1, "tickColor": "#333", "tickSize": 3, "tickOpacity": {"condition": {"test": "datum.value % 1 === 0", "value": 1}, "value": 0}}},
              "text": {"field": "star"}
            }
          }
        ]
      }
    }
  ],
  "resolve": {"scale": {"color": "independent", "strokeDash": "independent"}, "legend": {"color": "independent", "strokeDash": "independent"}}
}
